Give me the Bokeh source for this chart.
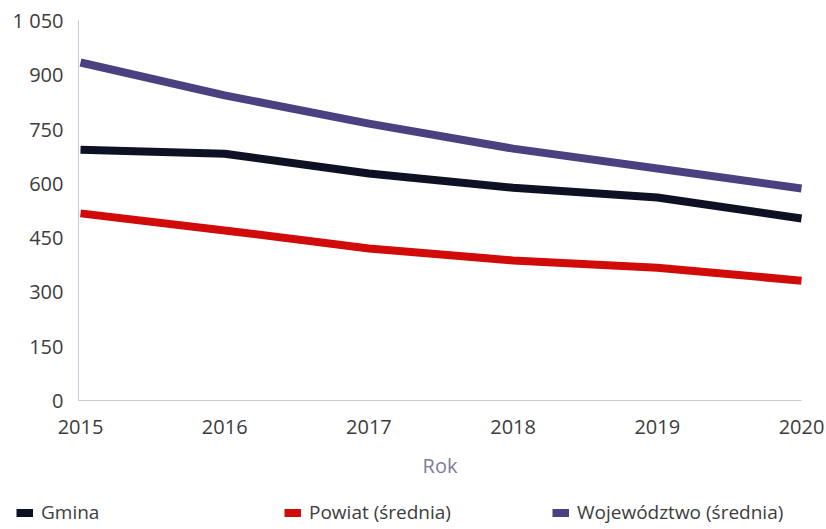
from bokeh.plotting import figure
from bokeh.models import Range1d, FixedTicker, Legend, LegendItem
from bokeh.embed import file_html
from bokeh.resources import INLINE

years = [2015, 2016, 2017, 2018, 2019, 2020]
gmina = [693, 682, 627, 588, 561, 503]
powiat = [517, 470, 420, 387, 367, 331]
wojewodztwo = [934, 843, 765, 696, 641, 586]

y_ticks = [0, 150, 300, 450, 600, 750, 900, 1050]
y_tick_labels = ["0", "150", "300", "450", "600", "750", "900", "1 050"]

series_names = ["Gmina", "Powiat (średnia)", "Województwo (średnia)"]
colors = ["#0e1024", "#d10a0a", "#4b4080"]

FONT = "Open Sans"
TXT = "#3c3c3c"

W, H = 824, 527
PX_PER_YEAR = 144.2
PX_PER_UNIT = 380 / 1050
x_start = years[0] - 80 / PX_PER_YEAR
x_end = years[-1] + (W - 801) / PX_PER_YEAR
axis_x = years[0] - 2 / PX_PER_YEAR
y_start = -(H - 400) / PX_PER_UNIT
y_end = y_ticks[-1] + 20 / PX_PER_UNIT

p = figure(width=W, height=H, output_backend="svg", toolbar_location=None,
           x_range=Range1d(x_start, x_end), y_range=Range1d(y_start, y_end),
           min_border=0, min_border_left=0, min_border_right=0,
           min_border_top=0, min_border_bottom=0)
p.outline_line_color = None
p.xgrid.visible = False
p.ygrid.visible = False

r_w = p.line(years, wojewodztwo, line_width=8, color=colors[2], line_join="round")
r_g = p.line(years, gmina, line_width=8, color=colors[0], line_join="round")
r_p = p.line(years, powiat, line_width=8, color=colors[1], line_join="round")

p.xaxis.ticker = FixedTicker(ticks=years)
p.xaxis.bounds = (axis_x, years[-1])
p.xaxis.fixed_location = 0
p.yaxis.ticker = FixedTicker(ticks=y_ticks)
p.yaxis.bounds = (0, y_ticks[-1])
p.yaxis.major_label_overrides = {t: l for t, l in zip(y_ticks, y_tick_labels)}
p.yaxis.fixed_location = axis_x

for ax in (p.xaxis, p.yaxis):
    ax.axis_line_color = "#c9c9d9"
    ax.axis_line_width = 1
    ax.major_tick_line_color = None
    ax.minor_tick_line_color = None
    ax.major_tick_out = 0
    ax.major_tick_in = 0
    ax.major_label_text_font = FONT
    ax.major_label_text_font_size = "20px"
    ax.major_label_text_color = TXT

p.xaxis.major_label_standoff = 19
p.yaxis.major_label_standoff = 15
p.xaxis.axis_label = "Rok"
p.xaxis.axis_label_text_font = FONT
p.xaxis.axis_label_text_font_size = "20px"
p.xaxis.axis_label_text_font_style = "normal"
p.xaxis.axis_label_text_color = "#7e7b9e"
p.xaxis.axis_label_standoff = 15

items = [LegendItem(label=n, renderers=[r]) for n, r in zip(series_names, [r_g, r_p, r_w])]
lg = Legend(items=items, location=(16, 2), orientation="horizontal",
            padding=0, margin=0, spacing=0,
            border_line_color=None, background_fill_alpha=0,
            glyph_width=17, glyph_height=9, label_height=16, label_width=243,
            label_standoff=8, label_text_font=FONT,
            label_text_font_size="19px", label_text_color=TXT)
p.add_layout(lg, "center")

open("out.html", "w").write(file_html(p, INLINE))
